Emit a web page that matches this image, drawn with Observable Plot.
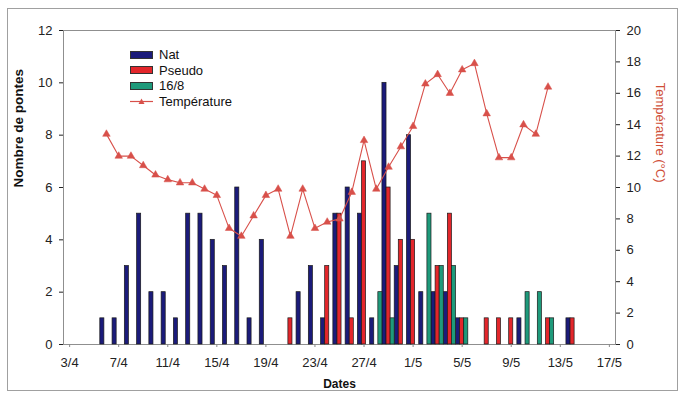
<!DOCTYPE html>
<html><head><meta charset="utf-8">
<script src="https://cdn.jsdelivr.net/npm/d3@7"></script>
<script src="https://cdn.jsdelivr.net/npm/@observablehq/plot@0.6"></script>
<style>
body{margin:0;background:#fff;font-family:"Liberation Sans",Arial,sans-serif;}
#wrap{position:relative;width:681px;height:393px;overflow:hidden}
#border{position:absolute;left:7px;top:8px;width:671px;height:383px;border:1px solid #a0a0a0;box-sizing:border-box;pointer-events:none}
#legend{position:absolute;left:130px;top:47px;font-size:13px;line-height:15.5px;color:#111}
#legend .row{display:flex;align-items:center;height:15.5px}
#legend .sw{display:inline-block;width:21px;height:6px;border:1px solid #333;margin-right:6px}
#legend svg{margin-right:6px}
</style></head><body><div id="wrap"><div id="border"></div></div>
<script>
// ---- data ----
const dates = ["6/4","7/4","8/4","9/4","10/4","11/4","12/4","13/4","14/4","15/4","16/4","17/4","18/4","19/4","20/4",
  "21/4","22/4","23/4","24/4","25/4","26/4","27/4","28/4","29/4","30/4",
  "1/5","2/5","3/5","4/5","5/5","6/5","7/5","8/5","9/5","10/5","11/5","12/5","13/5","14/5"];
const nat =      [1,1,3,5,2,2,1,5,5,4,3,6,1,4,0, 0,2,3,1,5,6,5,1,10,3, 8,2,2,2,1,0,0,0,0,1,0,0,0,1];
const pseudo =   [0,0,0,0,0,0,0,0,0,0,0,0,0,0,0, 1,0,0,3,5,1,7,0,6,4, 4,0,3,5,1,0,1,1,1,0,0,1,0,1];
const photo168 = [0,0,0,0,0,0,0,0,0,0,0,0,0,0,0, 0,0,0,0,0,0,0,2,1,0, 0,5,3,3,1,0,0,0,0,2,2,1,0,0];
const temperature = [13.4,12.0,12.0,11.4,10.8,10.5,10.3,10.3,9.9,9.5,7.4,6.9,8.2,9.5,9.9,
  6.9,9.9,7.4,7.8,8.0,9.7,13.0,9.9,11.3,12.6,
  13.9,16.6,17.2,16.0,17.5,17.9,14.7,11.9,11.9,14.0,13.4,16.4,null,null];
const seriesNames = ["Nat","Pseudo","16/8"];
const seriesColors = ["#1b1b7a","#e3262b","#1e9a7b"];
const tempColor = "#d8504a";
const xTickLabels = ["3/4","7/4","11/4","15/4","19/4","23/4","27/4","1/5","5/5","9/5","13/5","17/5"];
const yTicksLeft = [0,2,4,6,8,10,12];
const yTicksRight = [0,2,4,6,8,10,12,14,16,18,20];

// ---- helpers ----
const parse = s => { const [d, m] = s.split("/").map(Number); return new Date(Date.UTC(2004, m - 1, d)); };
const H = 3600 * 1000;
const k = 12 / 20; // right axis (°C) to left axis units
const fmt = d => `${d.getUTCDate()}/${d.getUTCMonth() + 1}`;

const bars = [];
[nat, pseudo, photo168].forEach((vals, i) => {
  vals.forEach((v, j) => { if (v > 0) bars.push({date: parse(dates[j]), i, series: seriesNames[i], value: v}); });
});
const temps = dates.map((d, j) => ({date: parse(dates[j]), t: temperature[j]})).filter(d => d.t != null);

const chart = Plot.plot({
  width: 681, height: 393,
  marginLeft: 63, marginRight: 66, marginTop: 30, marginBottom: 49,
  style: {fontSize: "13px", fontFamily: "'Liberation Sans', Arial, sans-serif", color: "#222", background: "transparent"},
  x: {type: "utc", domain: [new Date(+parse("3/4") - 12 * H), new Date(+parse("17/5") + 12 * H)]},
  y: {domain: [0, 12]},
  color: {domain: seriesNames, range: seriesColors},
  marks: [
    Plot.frame({stroke: "#8f8f8f"}),
    Plot.rectY(bars, {
      x1: d => new Date(+d.date + (-12 + 8 * d.i) * H),
      x2: d => new Date(+d.date + (-4 + 8 * d.i) * H),
      y1: 0, y2: "value", fill: "series", stroke: "#1a1a1a", strokeWidth: 0.7
    }),
    Plot.line(temps, {x: "date", y: d => d.t * k, stroke: tempColor, strokeWidth: 1.1}),
    Plot.dot(temps, {x: "date", y: d => d.t * k, symbol: "triangle", r: 2.8, fill: tempColor, stroke: tempColor, strokeWidth: 0.5}),
    Plot.axisX({ticks: xTickLabels.map(parse), tickFormat: fmt, tickSize: 3, tickPadding: 10, label: null, stroke: "#888"}),
    Plot.axisY({anchor: "left", ticks: yTicksLeft, tickSize: 4, tickPadding: 7, label: null}),
    Plot.axisY({anchor: "right", ticks: yTicksRight.map(t => t * k), tickFormat: d => String(Math.round(d / k)), tickSize: 4, tickPadding: 7, label: null}),
    Plot.text(["Nombre de pontes"], {frameAnchor: "left", dx: -45, rotate: -90, fontWeight: "bold", fontSize: 13.5, fill: "#111"}),
    Plot.text(["Température (°C)"], {frameAnchor: "right", dx: 45, dy: -5, rotate: 90, fontSize: 13, fill: "#cf4f38"}),
    Plot.text(["Dates"], {frameAnchor: "bottom", dy: 43, fontWeight: "bold", fontSize: 12, fill: "#111"})
  ]
});
chart.style.position = "absolute";
chart.style.left = "0px";
chart.style.top = "0px";
const wrap = document.getElementById("wrap");
wrap.appendChild(chart);

// legend overlay
const leg = document.createElement("div");
leg.id = "legend";
seriesNames.forEach((n, i) => {
  const r = document.createElement("div");
  r.className = "row";
  r.innerHTML = `<span class="sw" style="background:${seriesColors[i]}"></span>${n}`;
  leg.appendChild(r);
});
const r = document.createElement("div");
r.className = "row";
r.innerHTML = `<svg width="23" height="9"><line x1="0" y1="4.5" x2="23" y2="4.5" stroke="${tempColor}" stroke-width="1.2"/><path d="M11.5,1.5 L14.5,7 L8.5,7 Z" fill="${tempColor}"/></svg>Température`;
leg.appendChild(r);
wrap.appendChild(leg);
</script>
</body></html>
